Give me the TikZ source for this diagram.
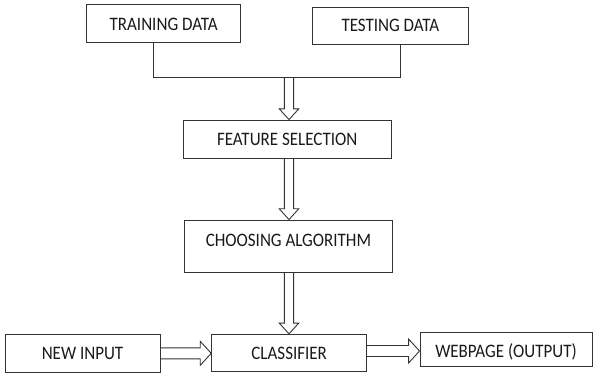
\documentclass[tikz,border=0pt]{standalone}
\usepackage{fontspec}
\setmainfont{Carlito}
\usetikzlibrary{calc}
\newcommand\captext[1]{\scalebox{1}[1.12]{#1}}
\newcommand\hollowdown[2]{%
  \draw[arrowline] let \p1=(#1), \p2=(#2) in
    (\x1-4.6pt,\y1) -- (\x1-4.6pt,\y2+10.8pt) -- (\x1-9.8pt,\y2+10.8pt) -- (\x1,\y2)
    -- (\x1+9.8pt,\y2+10.8pt) -- (\x1+4.6pt,\y2+10.8pt) -- (\x1+4.6pt,\y1);}
\newcommand\hollowright[2]{%
  \draw[arrowline] let \p1=(#1), \p2=(#2) in
    (\x1,\y1+5.5pt) -- (\x2-11pt,\y1+5.5pt) -- (\x2-11pt,\y1+12pt) -- (\x2,\y1)
    -- (\x2-11pt,\y1-12pt) -- (\x2-11pt,\y1-5.5pt) -- (\x1,\y1-5.5pt);}
\tikzset{
  box/.style={draw=black!80, line width=0.9pt, inner sep=0pt, text height=12.3pt,
    text depth=0pt, font=\fontsize{17}{20}\selectfont, text=black!90},
  arrowline/.style={draw=black!80, line width=0.9pt, line join=miter},
  conn/.style={draw=black!80, line width=0.9pt}
}
\begin{document}
\begin{tikzpicture}[x=1pt, y=-1pt]
\useasboundingbox (0,0) rectangle (593,376);
\node[box, minimum width=153.8pt, minimum height=38.5pt, text height=14.7pt] (train) at (163.6,23.3) {\captext{TRAINING DATA}};
\node[box, minimum width=155.3pt, minimum height=36.7pt] (test) at (390.4,25.7) {\captext{TESTING DATA}};
\node[box, minimum width=207.7pt, minimum height=38.3pt] (feat) at (287.2,139.2) {\captext{FEATURE SELECTION}};
\node[box, minimum width=208.7pt, minimum height=52pt, text depth=12pt] (choose) at (288.4,246) {\captext{CHOOSING ALGORITHM}};
\node[box, minimum width=155pt, minimum height=38.7pt] (newin) at (82.5,353.3) {\captext{NEW INPUT}};
\node[box, minimum width=155pt, minimum height=37.4pt] (clf) at (289.2,353) {\captext{CLASSIFIER}};
\node[box, minimum width=172pt, minimum height=33.6pt, text height=16.7pt] (web) at (506,349.5) {\captext{WEBPAGE (OUTPUT)}};
% joining lines
\coordinate (j1) at (153.3,77.3);
\coordinate (j2) at (400,77.3);
\coordinate (m) at (289,77.3);
\coordinate (r5) at (0,351);
\draw[conn] (train.south -| j1) -- (j1) -- (j2) -- (test.south -| j2);
% hollow arrows
\hollowdown{m}{m |- feat.north}
\hollowdown{m |- feat.south}{m |- choose.north}
\hollowdown{m |- choose.south}{m |- clf.north}
\hollowright{newin.east}{clf.west |- newin.east}
\hollowright{clf.east |- r5}{web.west |- r5}
\end{tikzpicture}
\end{document}
